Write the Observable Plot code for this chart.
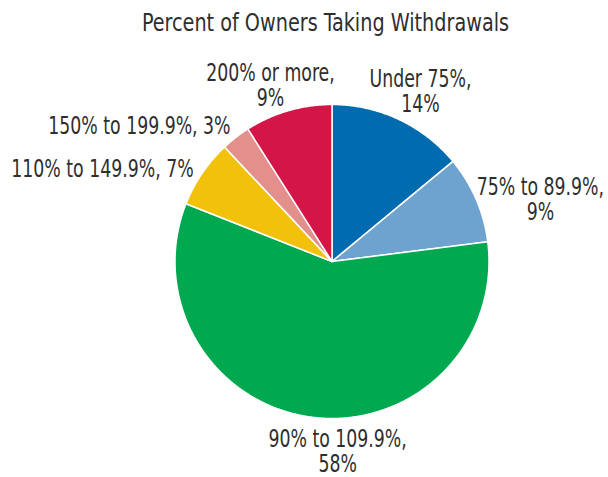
<!DOCTYPE html>
<html><head><meta charset="utf-8">
<script src="https://cdn.jsdelivr.net/npm/d3@7"></script>
<script src="https://cdn.jsdelivr.net/npm/@observablehq/plot@0.6"></script>
<style>body{margin:0;background:#fff}</style>
</head><body><div id="chart"></div>
<script>
// ---- data ----
const title = "Percent of Owners Taking Withdrawals";
const categories = ["Under 75%", "75% to 89.9%", "90% to 109.9%", "110% to 149.9%", "150% to 199.9%", "200% or more"];
const values = [14, 9, 58, 7, 3, 9];
const labels = ["Under 75%,\n14%", "75% to 89.9%,\n9%", "90% to 109.9%,\n58%", "110% to 149.9%, 7%", "150% to 199.9%, 3%", "200% or more,\n9%"];
const colors = ["#006bae", "#6fa3cf", "#00a94f", "#f1c10c", "#e38f8b", "#d31547"];

// ---- layout ----
const W = 608, H = 477, cx = 331.5, cy = 261, R = 157;
const labelLayout = [
  {r: 1.221, da: 2.3, anchor: "middle"},
  {r: 1.385, da: 6.8, anchor: "middle"},
  {r: 1.211, da: -8.9, anchor: "middle"},
  {r: 1.062, da: -0.3, anchor: "end"},
  {r: 1.076, da: 0.9, anchor: "end"},
  {r: 1.185, da: -3.1, anchor: "middle"}
];
const font = "'DejaVu Sans Condensed', 'DejaVu Sans', sans-serif";
const textColor = "#2e2e2e";
const fontSize = 25, labelSqueeze = 0.77, titleSqueeze = 0.855;

const total = d3.sum(values);
const slices = [];
const labelRows = [];
let acc = 0;
values.forEach((v, i) => {
  const a0 = acc / total * 360, a1 = (acc + v) / total * 360;
  acc += v;
  const pts = [{cat: categories[i], u: 0, v: 0}];
  const n = Math.max(2, Math.ceil((a1 - a0) / 0.5));
  for (let k = 0; k <= n; k++) {
    const t = (a0 + (a1 - a0) * k / n) * Math.PI / 180;
    pts.push({cat: categories[i], u: Math.sin(t), v: Math.cos(t)});
  }
  pts.push({cat: categories[i], u: 0, v: 0});
  slices.push(...pts);
  const L = labelLayout[i];
  const m = ((a0 + a1) / 2 + L.da) * Math.PI / 180;
  labelRows.push({text: labels[i], u: L.r * Math.sin(m), v: L.r * Math.cos(m), anchor: L.anchor});
});

const textOpts = {x: "u", y: "v", text: "text", fontSize, lineHeight: 1.0, fill: textColor, fontFamily: font, lineAnchor: "middle"};

const chart = Plot.plot({
  width: W, height: H, margin: 0,
  style: {background: "#fff", fontFamily: font},
  x: {domain: [(0 - cx) / R, (W - cx) / R], axis: null},
  y: {domain: [(cy - H) / R, cy / R], axis: null},
  color: {domain: categories, range: colors},
  marks: [
    Plot.line(slices, {x: "u", y: "v", z: "cat", fill: "cat", stroke: "white", strokeWidth: 1.5, strokeLinejoin: "round"}),
    Plot.text(labelRows.filter(d => d.anchor === "middle"), {...textOpts, textAnchor: "middle"}),
    Plot.text(labelRows.filter(d => d.anchor === "end"), {...textOpts, textAnchor: "end"}),
    Plot.text([title], {text: d => d, frameAnchor: "top", dx: 21, dy: 22, lineAnchor: "middle", fontSize, fill: textColor, fontFamily: font})
  ]
});

// narrow the glyphs horizontally about each text's anchor (condensed face)
chart.querySelectorAll("text").forEach(t => {
  const s = t.textContent === title ? titleSqueeze : labelSqueeze;
  const tr = t.getAttribute("transform");
  if (tr) {
    t.setAttribute("transform", tr + ` scale(${s},1)`);
  } else {
    const x = +t.getAttribute("x") || 0, y = +t.getAttribute("y") || 0;
    t.removeAttribute("x"); t.removeAttribute("y");
    t.querySelectorAll("tspan").forEach(ts => { if (ts.hasAttribute("x")) ts.setAttribute("x", 0); });
    t.setAttribute("transform", `translate(${x},${y}) scale(${s},1)`);
  }
});
document.getElementById("chart").appendChild(chart);
</script>
</body></html>
